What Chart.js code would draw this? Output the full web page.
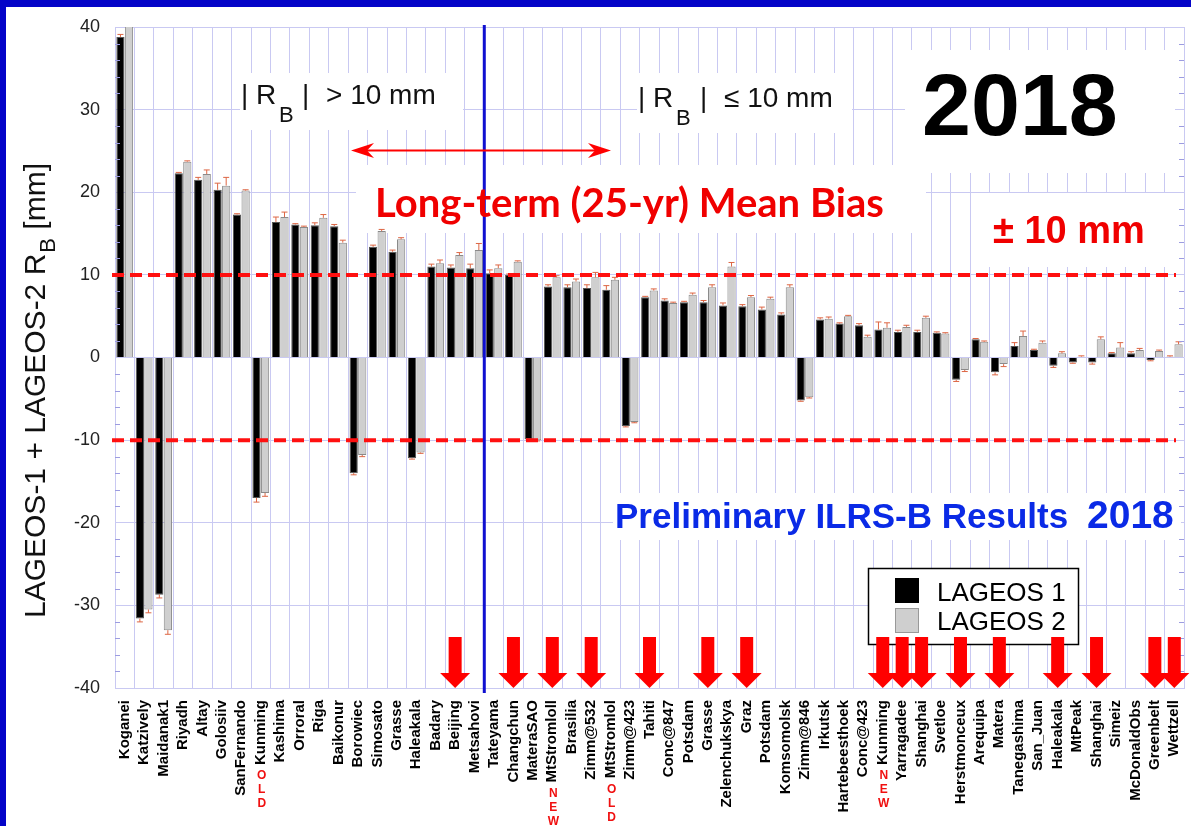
<!DOCTYPE html>
<html><head><meta charset="utf-8">
<script src="https://cdn.jsdelivr.net/npm/chart.js@4.4.0/dist/chart.umd.min.js"></script>
<style>
html,body{margin:0;padding:0;background:#fff;overflow:hidden}
#wrap{position:absolute;left:0;top:0;width:1191px;height:826px}
.bt{position:absolute;left:0;top:0;width:1191px;height:7px;background:#0404c8}
.bl{position:absolute;left:0;top:0;width:6px;height:826px;background:#0404c8}
</style></head><body>
<div id="wrap"><canvas id="c" width="1191" height="826"></canvas></div>
<div class="bt"></div><div class="bl"></div>
<script>
const stations = ['Koganei','Katzively','Maidanak1','Riyadh','Altay','Golosiiv','SanFernando','Kunming','Kashima','Orroral','Riga','Baikonur','Borowiec','Simosato','Grasse','Haleakala','Badary','Beijing','Metsahovi','Tateyama','Changchun','MateraSAO','MtStromloll','Brasilia','Zimm@532','MtStromlol','Zimm@423','Tahiti','Conc@847','Potsdam','Grasse','Zelenchukskya','Graz','Potsdam','Komsomolsk','Zimm@846','Irkutsk','Hartebeesthoek','Conc@423','Kunming','Yarragadee','Shanghai','Svetloe','Herstmonceux','Arequipa','Matera','Tanegashima','San_Juan','Haleakala','MtPeak','Shanghai','Simeiz','McDonaldObs','Greenbelt','Wettzell'];
const lageos1 = [38.8,-31.6,-28.7,22.3,21.5,20.3,17.3,-17.0,16.4,16.1,16.0,15.9,-14.0,13.4,12.8,-12.2,11.0,10.9,10.8,10.2,10.0,-9.9,8.6,8.5,8.4,8.2,-8.3,7.3,6.9,6.7,6.7,6.3,6.2,5.8,5.2,-5.2,4.6,4.1,3.9,3.4,3.1,3.1,3.0,-2.7,2.2,-1.8,1.4,0.9,-1.0,-0.6,-0.6,0.5,0.5,-0.3,0.1];
const lageos2 = [42.0,-30.5,-33.0,23.7,22.2,20.8,20.2,-16.4,17.0,15.8,16.9,13.9,-11.8,15.3,14.3,-11.5,11.4,12.4,13.0,10.8,11.6,-10.0,9.7,9.2,9.7,9.4,-7.8,8.1,6.6,7.6,8.5,11.0,7.3,7.1,8.5,-4.8,4.7,5.0,2.5,3.6,3.7,4.8,2.9,-1.5,1.9,-0.8,2.6,1.8,0.5,0.1,2.2,1.2,0.9,0.8,1.6];
const err1 = [0.3,0.4,0.4,0.1,0.3,0.8,0.1,0.5,0.6,0.1,0.3,0.2,0.2,0.2,0.2,0.1,0.3,0.3,0.5,0.4,0.1,0.1,0.2,0.3,0.4,0.5,0.1,0.1,0.2,0.1,0.2,0.3,0.2,0.3,0.2,0.1,0.2,0.1,0.2,0.9,0.2,0.2,0.1,0.2,0.1,0.3,0.4,0.1,0.2,0.1,0.2,0.1,0.2,0.1,0.1];
const err2 = [0.3,0.4,0.5,0.1,0.5,1.0,0.1,0.4,0.6,0.1,0.4,0.3,0.2,0.2,0.2,0.1,0.4,0.3,0.8,0.4,0.1,0.1,0.2,0.3,0.6,0.3,0.1,0.2,0.1,0.2,0.3,0.5,0.2,0.2,0.3,0.1,0.2,0.1,0.2,0.6,0.2,0.2,0.1,0.2,0.1,0.3,0.6,0.2,0.2,0.1,0.3,0.6,0.2,0.1,0.3];
const seriesNames = ['LAGEOS 1','LAGEOS 2'];
const yMin = -40, yMax = 40, yStep = 10;
const limitLines = [10,-10];
const splitAfterIndex = 18; // blue line between Metsahovi and Tateyama
const arrowIdx = [17,20,22,24,27,30,32,39,40,41,43,45,48,50,53,54];
const stationNotes = {7:'OLD',22:'NEW',25:'OLD',39:'NEW'};

const SANS = '"Liberation Sans", Arial, sans-serif';
const GRID = '#c9c9f2';
const XFONT = 15, XPAD = 12;

const overlay = {
  id:'overlay',
  beforeDatasetsDraw(chart){
    const ctx = chart.ctx;
    ctx.save();
    ctx.fillStyle = '#fff';
    [[240,73,223,57],[637,73,215,60],[356,165,570,68],[905,50,270,123],[975,193,206,74],[613,493,568,47]]
      .forEach(b=>ctx.fillRect(b[0],b[1],b[2],b[3]));
    ctx.restore();
  },
  afterDatasetsDraw(chart){
    const ctx = chart.ctx, ca = chart.chartArea;
    const xs = chart.scales.x, ys = chart.scales.y;
    ctx.save();
    // error bars
    ctx.strokeStyle = '#dd6644'; ctx.lineWidth = 1;
    [err1, err2].forEach((errs, di)=>{
      const meta = chart.getDatasetMeta(di);
      const vals = chart.data.datasets[di].data;
      meta.data.forEach((el,i)=>{
        const v = vals[i]; if (Math.abs(v) >= yMax) return;
        const e = v >= 0 ? v + errs[i] : v - errs[i];
        const y0 = ys.getPixelForValue(v), y1 = ys.getPixelForValue(e);
        ctx.beginPath();
        ctx.moveTo(el.x, y0); ctx.lineTo(el.x, y1);
        ctx.moveTo(el.x-3, y1); ctx.lineTo(el.x+3, y1);
        ctx.stroke();
      });
    });
    // minor ticks
    ctx.strokeStyle = '#9c9ce0'; ctx.lineWidth = 1;
    for (let v = yMin+2; v < yMax; v += 2) {
      if (v % 10 === 0) continue;
      const y = Math.round(ys.getPixelForValue(v)) + 0.5;
      ctx.beginPath();
      ctx.moveTo(ca.left, y); ctx.lineTo(ca.left+5, y);
      ctx.moveTo(ca.right-5, y); ctx.lineTo(ca.right, y);
      ctx.stroke();
    }
    // dashed limit lines
    ctx.strokeStyle = '#ff1010'; ctx.lineWidth = 4; ctx.setLineDash([12,6]);
    limitLines.forEach(v=>{
      const y = ys.getPixelForValue(v);
      ctx.beginPath(); ctx.moveTo(ca.left-3, y); ctx.lineTo(ca.right-8, y); ctx.stroke();
    });
    ctx.setLineDash([]);
    // blue split line
    const bx = (xs.getPixelForValue(splitAfterIndex) + xs.getPixelForValue(splitAfterIndex+1))/2;
    ctx.strokeStyle = '#1010d0'; ctx.lineWidth = 3;
    ctx.beginPath(); ctx.moveTo(bx, ca.top-2); ctx.lineTo(bx, ca.bottom+5); ctx.stroke();
    // double arrow
    ctx.strokeStyle = '#ff0000'; ctx.fillStyle = '#ff0000'; ctx.lineWidth = 2;
    ctx.beginPath(); ctx.moveTo(360,150.5); ctx.lineTo(602,150.5); ctx.stroke();
    ctx.beginPath(); ctx.moveTo(351,150.5); ctx.lineTo(374,143); ctx.lineTo(367,150.5); ctx.lineTo(374,158); ctx.closePath(); ctx.fill();
    ctx.beginPath(); ctx.moveTo(611,150.5); ctx.lineTo(588,143); ctx.lineTo(595,150.5); ctx.lineTo(588,158); ctx.closePath(); ctx.fill();
    // R_B texts
    ctx.fillStyle = '#111'; ctx.textBaseline = 'alphabetic'; ctx.textAlign = 'left';
    ctx.font = '28px ' + SANS; ctx.fillText('| R', 241, 104);
    ctx.font = '22px ' + SANS; ctx.fillText('B', 279, 122);
    ctx.font = '28px ' + SANS; ctx.fillText('|', 302, 104); ctx.fillText('> 10 mm', 326, 104, 120);
    ctx.font = '28px ' + SANS; ctx.fillText('| R', 638, 107);
    ctx.font = '22px ' + SANS; ctx.fillText('B', 676, 125);
    ctx.font = '28px ' + SANS; ctx.fillText('|', 700, 107); ctx.fillText('\u2264 10 mm', 724, 107, 117);
    // big texts
    ctx.fillStyle = '#f00000';
    ctx.font = 'bold 40px Lato, "Open Sans", sans-serif';
    ctx.fillText('Long-term (25-yr) Mean Bias', 375, 217, 532);
    ctx.font = 'bold 38px ' + SANS;
    ctx.fillText('\u00b1 10 mm', 993, 243, 161);
    ctx.fillStyle = '#000';
    ctx.font = 'bold 88px ' + SANS;
    ctx.fillText('2018', 922, 135, 200);
    ctx.fillStyle = '#0a2ae6';
    ctx.font = 'bold 35px ' + SANS;
    ctx.fillText('Preliminary ILRS-B Results', 615, 528, 462);
    ctx.font = 'bold 39px ' + SANS;
    ctx.fillText('2018', 1087, 528, 87);
    // legend
    ctx.fillStyle = '#fff'; ctx.fillRect(868,568,210,76);
    ctx.strokeStyle = '#000'; ctx.lineWidth = 1.5; ctx.strokeRect(868.5,568.5,210,76);
    ctx.fillStyle = '#000'; ctx.fillRect(895,578,24,25);
    ctx.fillStyle = '#cfcfcf'; ctx.fillRect(895,608,24,25);
    ctx.strokeStyle = '#999'; ctx.lineWidth = 1; ctx.strokeRect(895.5,608.5,23,24);
    ctx.fillStyle = '#000'; ctx.font = '26px ' + SANS;
    ctx.fillText(seriesNames[0], 937, 601, 131);
    ctx.fillText(seriesNames[1], 937, 630, 131);
    // red arrows
    ctx.fillStyle = '#ff0000';
    arrowIdx.forEach(i=>{
      const x = xs.getPixelForValue(i), b = ca.bottom;
      ctx.fillRect(x-6.5, b-51, 13, 37);
      ctx.beginPath(); ctx.moveTo(x-15, b-15); ctx.lineTo(x+15, b-15); ctx.lineTo(x, b); ctx.closePath(); ctx.fill();
    });
    // y title
    ctx.save();
    ctx.translate(45, 618); ctx.rotate(-Math.PI/2);
    ctx.fillStyle = '#111';
    ctx.font = '30px ' + SANS;
    const t1 = 'LAGEOS-1 + LAGEOS-2 R';
    ctx.fillText(t1, 0, 0);
    let w = ctx.measureText(t1).width + 1;
    ctx.font = '22px ' + SANS; ctx.fillText('B', w, 10);
    w += ctx.measureText('B').width;
    ctx.font = '30px ' + SANS; ctx.fillText(' [mm]', w, 0);
    ctx.restore();
    // OLD / NEW notes
    Object.keys(stationNotes).forEach(k=>{
      const i = +k, x = xs.getPixelForValue(i);
      ctx.font = 'bold ' + XFONT + 'px ' + SANS;
      const lw = ctx.measureText(stations[i]).width;
      ctx.font = 'bold 12px ' + SANS;
      ctx.fillStyle = '#f01010'; ctx.textAlign = 'center'; ctx.textBaseline = 'middle';
      stationNotes[k].split('').forEach((ch,j)=>{
        ctx.fillText(ch, x+1, ca.bottom + XPAD + lw + 11 + j*14);
      });
    });
    ctx.restore();
  }
};

new Chart(document.getElementById('c'), {
  type:'bar',
  data:{
    labels: stations,
    datasets:[
      {label:seriesNames[0], data:lageos1, backgroundColor:'#000', borderColor:'#555', borderWidth:1, categoryPercentage:0.88, barPercentage:0.96},
      {label:seriesNames[1], data:lageos2, backgroundColor:'#cfcfcf', borderColor:'#8a8a8a', borderWidth:1, categoryPercentage:0.88, barPercentage:0.96}
    ]
  },
  options:{
    responsive:false, animation:false, devicePixelRatio:1,
    layout:{padding:{left:0,right:7,top:27,bottom:0}},
    plugins:{legend:{display:false}, tooltip:{enabled:false}},
    scales:{
      x:{
        grid:{color:GRID, offset:true, drawTicks:false, lineWidth:1},
        border:{color:GRID},
        ticks:{autoSkip:false, minRotation:90, maxRotation:90, padding:XPAD, color:'#000', font:{family:SANS, size:XFONT, weight:'bold'}},
        afterFit(s){ s.height = 138; s.paddingLeft = 0; s.paddingRight = 0; }
      },
      y:{
        min:yMin, max:yMax,
        grid:{color:GRID, drawTicks:false},
        border:{color:GRID},
        ticks:{stepSize:yStep, padding:15, color:'#222', font:{family:SANS, size:18}},
        afterFit(s){ s.width = 115; }
      }
    }
  },
  plugins:[overlay]
});
</script>
</body></html>
